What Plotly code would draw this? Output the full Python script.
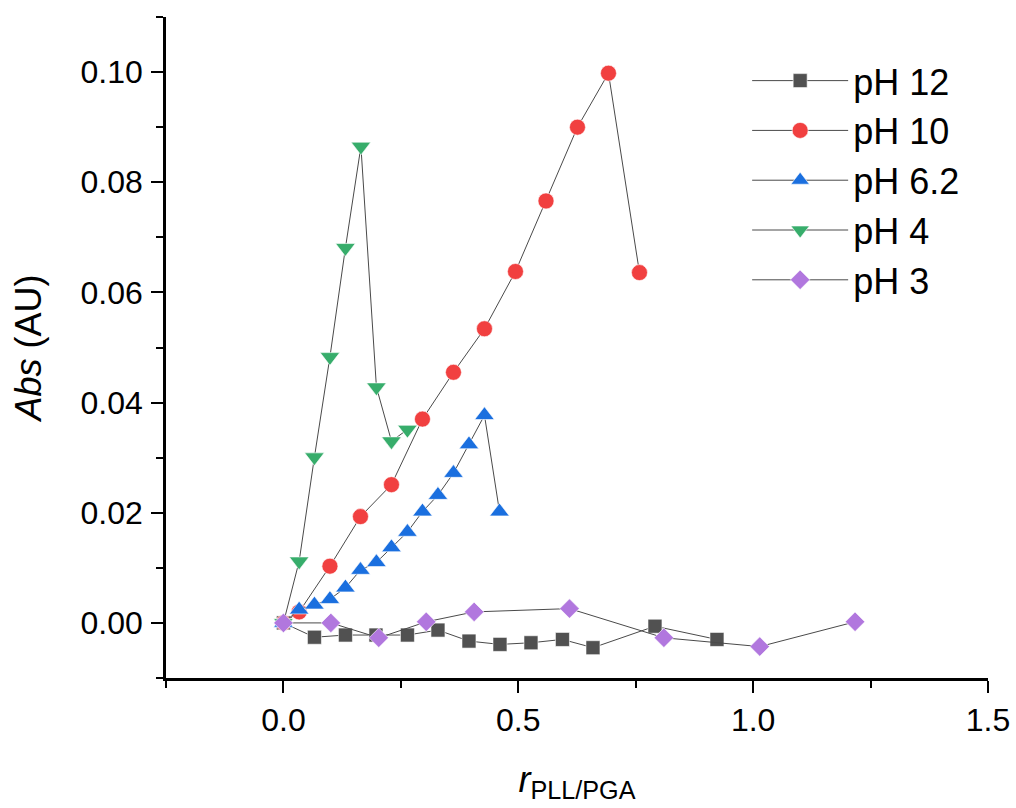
import plotly.graph_objects as go

# ---- data ----
x_ph12 = [0.0, 0.066, 0.132, 0.197, 0.264, 0.329, 0.395, 0.461, 0.527, 0.594, 0.659, 0.791, 0.923]
y_ph12 = [0.0, -0.0026, -0.0022, -0.0022, -0.0022, -0.0013, -0.0033, -0.0039, -0.0036, -0.0030, -0.0045, -0.0006, -0.0030]

x_ph10 = [0.0, 0.0335, 0.099, 0.164, 0.230, 0.296, 0.362, 0.428, 0.494, 0.559, 0.626, 0.692, 0.758]
y_ph10 = [0.0, 0.0020, 0.0103, 0.0193, 0.0251, 0.0370, 0.0455, 0.0534, 0.0638, 0.0766, 0.0900, 0.0998, 0.0636]

x_ph62 = [0.0, 0.0335, 0.066, 0.099, 0.132, 0.164, 0.198, 0.230, 0.264, 0.296, 0.329, 0.362, 0.395, 0.428, 0.460]
y_ph62 = [0.0, 0.0024, 0.0033, 0.0043, 0.0064, 0.0096, 0.0110, 0.0137, 0.0165, 0.0202, 0.0232, 0.0272, 0.0324, 0.0377, 0.0202]

x_ph4 = [0.0, 0.0335, 0.066, 0.099, 0.132, 0.165, 0.198, 0.230, 0.264]
y_ph4 = [0.0, 0.0112, 0.0301, 0.0483, 0.0681, 0.0865, 0.0428, 0.0330, 0.0351]

x_ph3 = [0.0, 0.101, 0.203, 0.304, 0.406, 0.609, 0.810, 1.014, 1.217]
y_ph3 = [0.0, 0.0000, -0.0027, 0.0002, 0.0020, 0.0026, -0.0027, -0.0043, 0.0002]

names = ["pH 12", "pH 10", "pH 6.2", "pH 4", "pH 3"]
colors = ["#515151", "#F14040", "#1A6FDF", "#37AD6B", "#B177DE"]
symbols = ["square", "circle", "triangle-up", "triangle-down", "diamond"]
sizes = [14, 16, 17, 17, 15]

xs = [x_ph12, x_ph10, x_ph62, x_ph4, x_ph3]
ys = [y_ph12, y_ph10, y_ph62, y_ph4, y_ph3]

FONT = "Arial, Liberation Sans, sans-serif"

fig = go.Figure()
for xv, yv, n, c, s, sz in zip(xs, ys, names, colors, symbols, sizes):
    fig.add_trace(go.Scatter(
        x=xv, y=yv, name=n, mode="lines+markers",
        line=dict(color="#4a4a4a", width=1),
        marker=dict(symbol=s, size=sz, color=c, line=dict(color="white", width=0.6)),
    ))

fig.update_layout(
    width=1016, height=808,
    margin=dict(l=166, r=28, t=17, b=130),
    paper_bgcolor="white", plot_bgcolor="white",
    font=dict(family=FONT, color="black"),
    showlegend=True,
    legend=dict(
        x=0.707, y=0.949, xanchor="left", yanchor="top",
        font=dict(size=36, family=FONT, color="black"),
        itemwidth=96, bgcolor="rgba(0,0,0,0)", borderwidth=0,
    ),
    xaxis=dict(
        range=[-0.25, 1.5], showgrid=False, zeroline=False, automargin=False,
        showline=True, linecolor="black", linewidth=2.5,
        ticks="outside", ticklen=12, tickwidth=2, tickcolor="black",
        tick0=0, dtick=0.5, tickformat=".1f",
        tickfont=dict(size=32, family=FONT),
        minor=dict(ticks="outside", dtick=0.25, tick0=0, ticklen=7, tickwidth=2, tickcolor="black", showgrid=False),
        title=dict(text="<i>r</i><sub>PLL/PGA</sub>", font=dict(size=36, family=FONT), standoff=30),
    ),
    yaxis=dict(
        range=[-0.01, 0.11], showgrid=False, zeroline=False, automargin=False,
        showline=True, linecolor="black", linewidth=2.5,
        ticks="outside", ticklen=12, tickwidth=2, tickcolor="black",
        tick0=0, dtick=0.02, tickformat=".2f", ticklabelstandoff=2,
        tickfont=dict(size=32, family=FONT),
        minor=dict(ticks="outside", dtick=0.01, tick0=0, ticklen=7, tickwidth=2, tickcolor="black", showgrid=False),
        title=dict(text="<i>Abs</i> (AU)", font=dict(size=36, family=FONT), standoff=28),
    ),
)

fig.write_html("out.html")
